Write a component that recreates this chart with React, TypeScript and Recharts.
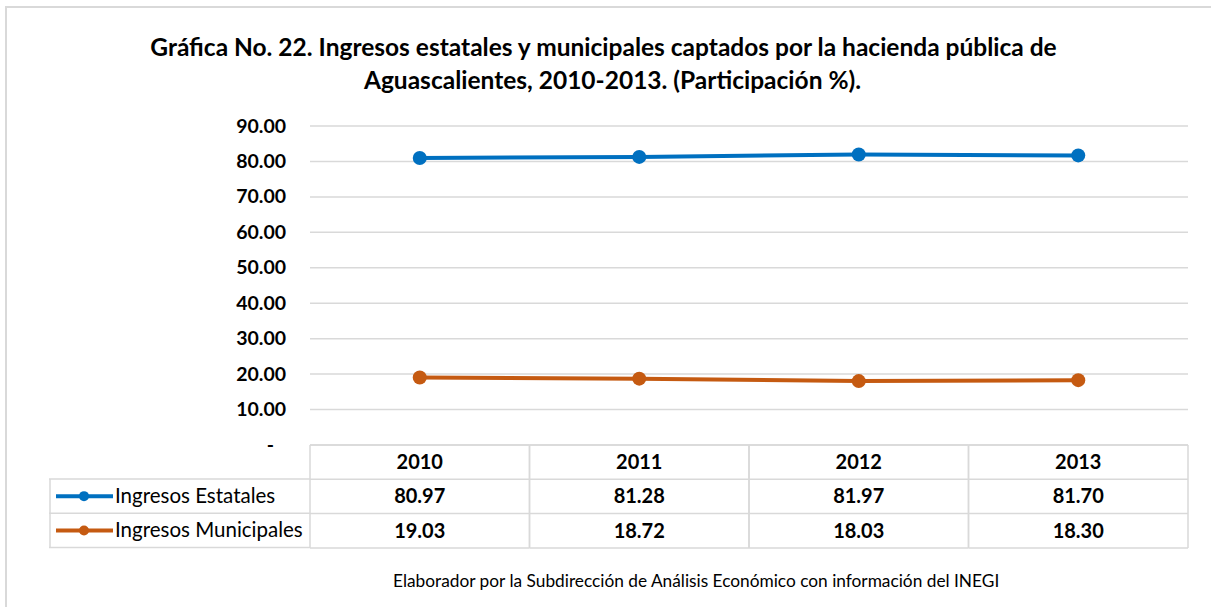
import { LineChart, Line, XAxis, YAxis, CartesianGrid, Legend } from "recharts";

const years = ["2010", "2011", "2012", "2013"];
const estatales = [80.97, 81.28, 81.97, 81.7];
const municipales = [19.03, 18.72, 18.03, 18.3];
const yTicks = [0, 10, 20, 30, 40, 50, 60, 70, 80, 90];

const seriesNames = ["Ingresos Estatales", "Ingresos Municipales"];
const seriesValues = [estatales, municipales];

const BLUE = "#0070C0";
const ORANGE = "#C55A11";
const GRID = "#D9D9D9";
const FONT = "Lato, 'Open Sans', sans-serif";

const COL_W = 219.5;
const ROW_H = 34.3;

const data = years.map((year, i) => ({
  year,
  estatales: estatales[i],
  municipales: municipales[i],
}));

function YTick(props: any) {
  const { x, y, payload } = props;
  const isZero = payload.value === 0;
  return (
    <text
      x={isZero ? x - 12 : x}
      y={y}
      dy={6.5}
      textAnchor="end"
      fontFamily={FONT}
      fontWeight={700}
      fontSize={19.5}
      fill="#000"
    >
      {isZero ? "-" : Number(payload.value).toFixed(2)}
    </text>
  );
}

// each x tick draws its own column of the data table
function TableTick(props: any) {
  const { x, y, payload, index } = props;
  const left = x - COL_W / 2;
  const right = x + COL_W / 2;
  const rows = [payload.value, ...seriesValues.map((s) => s[index].toFixed(2))];
  return (
    <g>
      {[0, 1, 2, 3].map((r) => (
        <line key={"h" + r} x1={left} x2={right} y1={y + r * ROW_H} y2={y + r * ROW_H} stroke={GRID} strokeWidth={1.5} />
      ))}
      <line x1={left} x2={left} y1={y} y2={y + 3 * ROW_H} stroke={GRID} strokeWidth={1.5} />
      <line x1={right} x2={right} y1={y} y2={y + 3 * ROW_H} stroke={GRID} strokeWidth={1.5} />
      {rows.map((t, r) => (
        <text
          key={"t" + r}
          x={x}
          y={y + r * ROW_H + ROW_H / 2}
          dy={7}
          textAnchor="middle"
          fontFamily={FONT}
          fontWeight={700}
          fontSize={20}
          fill="#000"
        >
          {t}
        </text>
      ))}
    </g>
  );
}

function TableLegend(props: any) {
  const payload = props.payload || [];
  const w = 261;
  return (
    <svg width={w} height={2 * ROW_H + 2} style={{ display: "block" }}>
      {[0, 1, 2].map((r) => (
        <line key={r} x1={0} x2={w} y1={1 + r * ROW_H} y2={1 + r * ROW_H} stroke={GRID} strokeWidth={1.5} />
      ))}
      <line x1={1} x2={1} y1={1} y2={1 + 2 * ROW_H} stroke={GRID} strokeWidth={1.5} />
      {payload.map((p: any, i: number) => {
        const cy = 1 + i * ROW_H + ROW_H / 2;
        return (
          <g key={p.value}>
            <line x1={7} x2={64} y1={cy} y2={cy} stroke={p.color} strokeWidth={4} />
            <circle cx={35} cy={cy} r={5} fill={p.color} />
            <text x={66} y={cy} dy={7} fontFamily={FONT} fontSize={20.5} fill="#000">
              {p.value}
            </text>
          </g>
        );
      })}
    </svg>
  );
}

export default function App() {
  return (
    <div
      style={{
        position: "absolute",
        left: 0,
        top: 0,
        width: 1211,
        height: 607,
        background: "#fff",
        overflow: "hidden",
        fontFamily: FONT,
      }}
    >
      <div
        style={{
          position: "absolute",
          left: 5,
          top: 6,
          width: 1220,
          height: 620,
          borderTop: `2px solid ${GRID}`,
          borderLeft: `2px solid ${GRID}`,
        }}
      />
      <div
        style={{
          position: "absolute",
          left: 0,
          top: 30,
          width: 1211,
          textAlign: "center",
          fontSize: 24.5,
          fontWeight: 700,
          lineHeight: "33px",
          color: "#000",
        }}
      >
        <div style={{ marginLeft: -4 }}>
          Gráfica No. 22. Ingresos estatales y municipales captados por la hacienda pública de
        </div>
        <div style={{ marginLeft: 14 }}>Aguascalientes, 2010-2013. (Participación %).</div>
      </div>
      <LineChart width={1211} height={607} data={data} margin={{ top: 126, right: 23, bottom: 52, left: 240 }}>
        <CartesianGrid horizontal vertical={false} stroke={GRID} strokeWidth={1.5} />
        <XAxis
          dataKey="year"
          height={110}
          axisLine={false}
          tickLine={false}
          tickSize={0}
          tickMargin={0}
          padding={{ left: COL_W / 2, right: COL_W / 2 }}
          interval={0}
          tick={<TableTick />}
        />
        <YAxis
          width={70}
          domain={[0, 90]}
          ticks={yTicks}
          axisLine={false}
          tickLine={false}
          tickMargin={18}
          tick={<YTick />}
        />
        <Legend
          layout="horizontal"
          verticalAlign="middle"
          wrapperStyle={{ left: 49, top: 478, width: 262 }}
          content={<TableLegend />}
        />
        <Line
          name={seriesNames[0]}
          dataKey="estatales"
          stroke={BLUE}
          strokeWidth={4}
          dot={{ r: 7, fill: BLUE, stroke: BLUE, strokeWidth: 0 }}
          isAnimationActive={false}
        />
        <Line
          name={seriesNames[1]}
          dataKey="municipales"
          stroke={ORANGE}
          strokeWidth={4}
          dot={{ r: 7, fill: ORANGE, stroke: ORANGE, strokeWidth: 0 }}
          isAnimationActive={false}
        />
      </LineChart>
      <div
        style={{
          position: "absolute",
          left: 393,
          top: 570,
          fontSize: 17.3,
          color: "#000",
          whiteSpace: "nowrap",
        }}
      >
        Elaborador por la Subdirección de Análisis Económico con información del INEGI
      </div>
    </div>
  );
}
